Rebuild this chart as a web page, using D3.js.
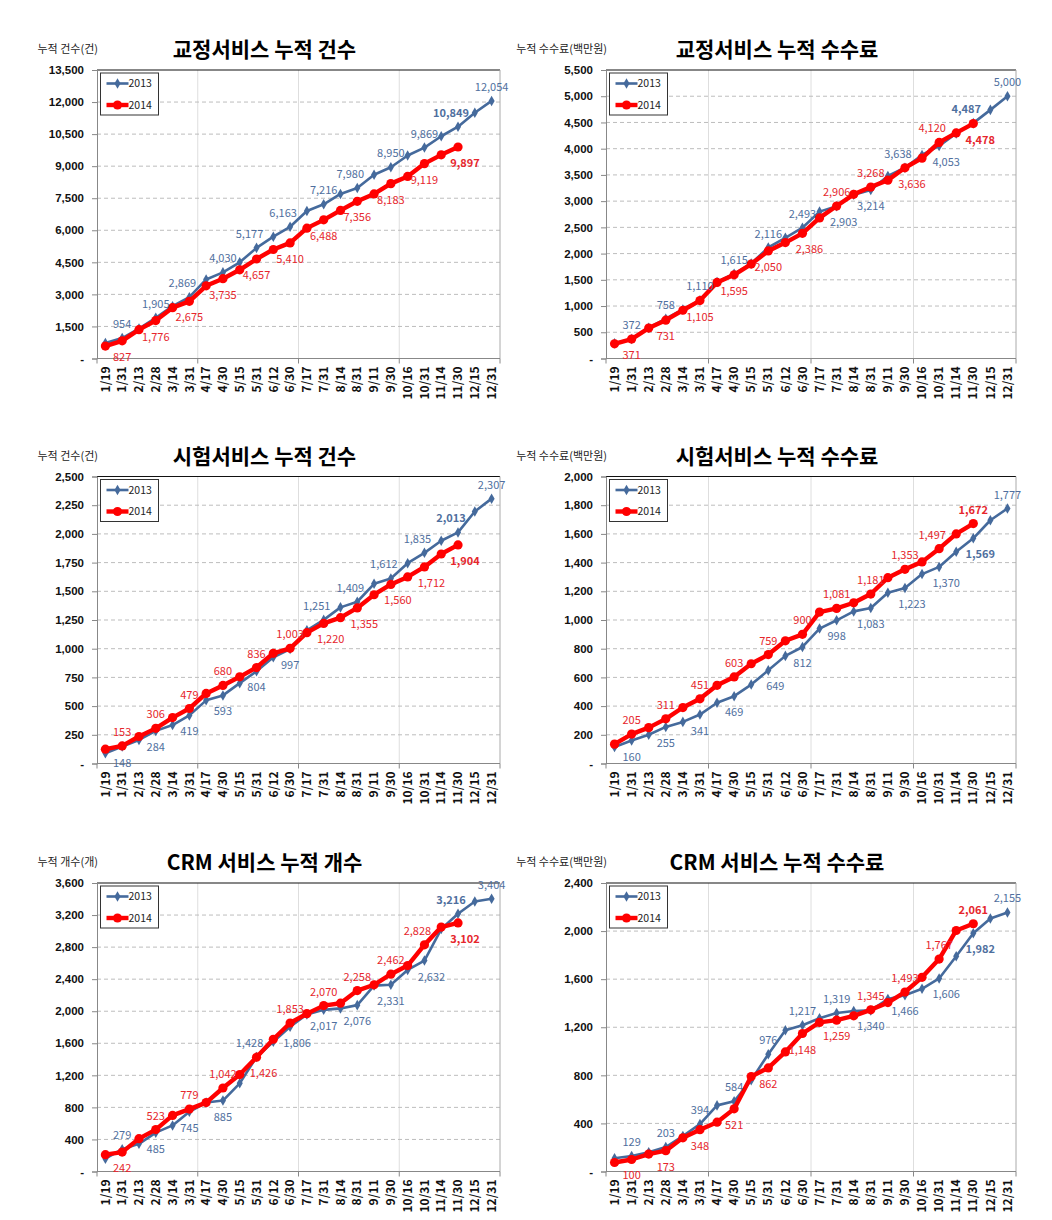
<!DOCTYPE html>
<html>
<head>
<meta charset="utf-8">
<script src="https://cdn.jsdelivr.net/npm/d3@7"></script>
<style>
body { margin: 0; background: #fff; }
svg { font-family: "Noto Sans CJK KR", "Noto Sans", sans-serif; }
</style>
</head>
<body>
<svg id="chart" width="1052" height="1220"></svg>
<script>
var categories = ['1/19', '1/31', '2/13', '2/28', '3/14', '3/31', '4/17', '4/30', '5/15', '5/31', '6/12', '6/30',
  '7/17', '7/31', '8/14', '8/31', '9/11', '9/30', '10/16', '10/31', '11/14', '11/30', '12/15', '12/31'];
var years = ['2013', '2014'];

var titles = ['교정서비스 누적 건수', '교정서비스 누적 수수료', '시험서비스 누적 건수',
  '시험서비스 누적 수수료', 'CRM 서비스 누적 개수', 'CRM 서비스 누적 수수료'];
var unitLabels = ['누적 건수(건)', '누적 수수료(백만원)', '누적 건수(건)',
  '누적 수수료(백만원)', '누적 개수(개)', '누적 수수료(백만원)'];
var yMax = [13500, 5500, 2500, 2000, 3600, 2400];
var yStep = [1500, 500, 250, 200, 400, 400];

var corrCount2013 = [720, 954, 1400, 1905, 2450, 2869, 3700, 4030, 4500, 5177, 5700, 6163, 6900, 7216, 7700, 7980, 8600, 8950, 9500, 9869, 10400, 10849, 11500, 12054];
var corrCount2014 = [580, 827, 1350, 1776, 2380, 2675, 3400, 3735, 4150, 4657, 5100, 5410, 6100, 6488, 6930, 7356, 7700, 8183, 8520, 9119, 9530, 9897];
var corrFee2013 = [290, 372, 585, 758, 935, 1110, 1460, 1615, 1810, 2116, 2300, 2493, 2800, 2903, 3120, 3214, 3480, 3638, 3880, 4053, 4290, 4487, 4740, 5000];
var corrFee2014 = [280, 371, 580, 731, 920, 1105, 1450, 1595, 1800, 2050, 2210, 2386, 2680, 2906, 3130, 3268, 3400, 3636, 3820, 4120, 4300, 4478];
var testCount2013 = [90, 148, 205, 284, 335, 419, 550, 593, 700, 804, 925, 997, 1160, 1251, 1360, 1409, 1565, 1612, 1745, 1835, 1940, 2013, 2195, 2307];
var testCount2014 = [125, 153, 235, 306, 400, 479, 610, 680, 755, 836, 960, 1003, 1140, 1220, 1270, 1355, 1470, 1560, 1625, 1712, 1825, 1904];
var testFee2013 = [115, 160, 200, 255, 290, 341, 423, 469, 550, 649, 750, 812, 940, 998, 1060, 1083, 1190, 1223, 1320, 1370, 1475, 1569, 1695, 1777];
var testFee2014 = [135, 205, 250, 311, 390, 451, 545, 603, 695, 759, 855, 900, 1055, 1081, 1120, 1181, 1295, 1353, 1405, 1497, 1600, 1672];
var crmCount2013 = [160, 279, 345, 485, 575, 745, 860, 885, 1100, 1428, 1620, 1806, 1960, 2017, 2035, 2076, 2320, 2331, 2515, 2632, 3025, 3216, 3370, 3404];
var crmCount2014 = [210, 242, 410, 523, 700, 779, 860, 1042, 1210, 1426, 1650, 1853, 1970, 2070, 2100, 2258, 2330, 2462, 2570, 2828, 3050, 3102];
var crmFee2013 = [110, 129, 160, 203, 295, 394, 550, 584, 760, 976, 1175, 1217, 1275, 1319, 1335, 1340, 1435, 1466, 1520, 1606, 1790, 1982, 2105, 2155];
var crmFee2014 = [75, 100, 145, 173, 280, 348, 410, 521, 790, 862, 995, 1148, 1240, 1259, 1295, 1345, 1405, 1493, 1615, 1767, 2005, 2061];

// label placement for every second point (a = above, b = below, l/r = nudge)
var side2013 = [
  ['a', 'a', 'al', 'a', 'al', 'al', 'a', 'al', 'a', 'a', 'al', 'a'],
  ['a', 'a', 'a', 'a', 'a', 'a', 'br', 'b', 'al', 'br', 'al', 'a'],
  ['b', 'b', 'b', 'b', 'b', 'b', 'al', 'al', 'al', 'al', 'al', 'a'],
  ['b', 'b', 'b', 'b', 'br', 'b', 'b', 'b', 'br', 'br', 'br', 'a'],
  ['a', 'b', 'b', 'b', 'al', 'br', 'b', 'b', 'b', 'br', 'al', 'a'],
  ['a', 'a', 'a', 'a', 'a', 'a', 'a', 'b', 'b', 'br', 'br', 'a']
];
var side2014 = [
  ['b', 'b', 'b', 'b', 'b', 'b', 'b', 'b', 'b', 'b', 'br'],
  ['b', 'b', 'b', 'b', 'b', 'br', 'a', 'a', 'br', 'al', 'br'],
  ['a', 'a', 'a', 'a', 'a', 'a', 'br', 'br', 'br', 'br', 'br'],
  ['a', 'a', 'a', 'a', 'a', 'a', 'a', 'a', 'a', 'al', 'a'],
  ['b', 'a', 'a', 'a', 'br', 'a', 'a', 'a', 'a', 'al', 'br'],
  ['b', 'b', 'b', 'b', 'b', 'b', 'b', 'a', 'a', 'a', 'a']
];

var series2013 = [corrCount2013, corrFee2013, testCount2013, testFee2013, crmCount2013, crmFee2013];
var series2014 = [corrCount2014, corrFee2014, testCount2014, testFee2014, crmCount2014, crmFee2014];

var cols = [{left: 97, right: 500}, {left: 606, right: 1016}];
var rows = [{top: 70, bottom: 358.5}, {top: 476.5, bottom: 763.5}, {top: 883, bottom: 1171.5}];

var blue = '#456a9c', blueText = '#4f6f9e';
var red = '#ff0000', redText = '#e6262c';

var svg = d3.select('#chart');
var fmt = d3.format(',');

function drawPanel(k) {
  var box = {
    left: cols[k % 2].left, right: cols[k % 2].right,
    top: rows[Math.floor(k / 2)].top, bottom: rows[Math.floor(k / 2)].bottom
  };
  var g = svg.append('g');

  var x = d3.scaleBand().domain(categories).range([box.left, box.right]).padding(0);
  var y = d3.scaleLinear().domain([0, yMax[k]]).range([box.bottom, box.top]);
  var cx = function(d, i) { return x(categories[i]) + x.bandwidth() / 2; };
  var ticks = d3.range(0, yMax[k] + 1, yStep[k]);

  // vertical gridlines every 6 categories
  var majors = [6, 12, 18];
  g.selectAll('.vgrid').data(majors).enter().append('line')
    .attr('x1', function(d) { return x(categories[d]); })
    .attr('x2', function(d) { return x(categories[d]); })
    .attr('y1', box.top).attr('y2', box.bottom)
    .attr('stroke', '#dedede').attr('stroke-width', 1);

  // horizontal dashed gridlines
  g.selectAll('.hgrid').data(ticks.slice(1, -1)).enter().append('line')
    .attr('x1', box.left).attr('x2', box.right)
    .attr('y1', function(d) { return y(d); }).attr('y2', function(d) { return y(d); })
    .attr('stroke', '#bdbdbd').attr('stroke-dasharray', '4,3');

  // frame
  g.append('line').attr('x1', box.left).attr('x2', box.right).attr('y1', box.top).attr('y2', box.top)
    .attr('stroke', '#111').attr('stroke-width', 1.2);
  g.append('line').attr('x1', box.right).attr('x2', box.right).attr('y1', box.top).attr('y2', box.bottom)
    .attr('stroke', '#aaa');

  // y axis
  var yAxis = d3.axisLeft(y).tickValues(ticks).tickSize(5).tickPadding(8)
    .tickFormat(function(d) { return d === 0 ? '-' : fmt(d); });
  var ya = g.append('g').attr('transform', 'translate(' + box.left + ',0)').call(yAxis);
  ya.select('.domain').attr('stroke', '#888');
  ya.selectAll('.tick line').attr('stroke', '#888');
  ya.selectAll('text').attr('font-size', 11.5).attr('font-weight', 700).attr('fill', '#111');

  // x axis
  var xa = g.append('g').attr('transform', 'translate(0,' + box.bottom + ')');
  xa.append('line').attr('x1', box.left).attr('x2', box.right).attr('stroke', '#888');
  xa.selectAll('.xtick').data([0, 6, 12, 18, 24]).enter().append('line')
    .attr('x1', function(d) { return d < 24 ? x(categories[d]) : box.right; })
    .attr('x2', function(d) { return d < 24 ? x(categories[d]) : box.right; })
    .attr('y1', 0).attr('y2', 5).attr('stroke', '#888');
  xa.selectAll('text').data(categories).enter().append('text')
    .attr('transform', function(d) {
      return 'translate(' + (x(d) + x.bandwidth() / 2) + ',8) rotate(-90)';
    })
    .attr('text-anchor', 'end').attr('dy', '0.35em')
    .attr('font-size', 12).attr('font-weight', 700).attr('fill', '#111')
    .text(function(d) { return d; });

  // titles
  g.append('text').attr('x', (box.left + box.right) / 2 - 34).attr('y', box.top - 13)
    .attr('text-anchor', 'middle').attr('font-size', 21).attr('font-weight', 700).attr('fill', '#000')
    .text(titles[k]);
  g.append('text').attr('x', box.left + 1).attr('y', box.top - 17)
    .attr('text-anchor', 'end').attr('font-size', 11).attr('fill', '#222')
    .text(unitLabels[k]);

  var line = d3.line().x(cx).y(function(d) { return y(d); });

  // 2013
  g.append('path').datum(series2013[k]).attr('d', line)
    .attr('fill', 'none').attr('stroke', blue).attr('stroke-width', 2.6).attr('stroke-linejoin', 'round');
  g.selectAll('.m13').data(series2013[k]).enter().append('path')
    .attr('d', d3.symbol(d3.symbolDiamond, 32))
    .attr('transform', function(d, i) { return 'translate(' + cx(d, i) + ',' + y(d) + ')'; })
    .attr('fill', blue);

  // 2014
  g.append('path').datum(series2014[k]).attr('d', line)
    .attr('fill', 'none').attr('stroke', red).attr('stroke-width', 4.4).attr('stroke-linejoin', 'round');
  g.selectAll('.m14').data(series2014[k]).enter().append('circle')
    .attr('cx', cx).attr('cy', function(d) { return y(d); }).attr('r', 4.6)
    .attr('fill', red);

  // data labels (every second point)
  function labels(values, sides, color) {
    var pts = values.map(function(v, i) { return {v: v, i: i}; })
      .filter(function(p) { return p.i % 2 === 1; });
    g.selectAll(null).data(pts).enter().append('text')
      .attr('x', function(p, j) {
        var s = sides[j], nudge = s.indexOf('l') > 0 ? -7 : (s.indexOf('r') > 0 ? 7 : 0);
        return cx(p.v, p.i) + nudge;
      })
      .attr('y', function(p, j) { return y(p.v) + (sides[j][0] === 'a' ? -10 : 20); })
      .attr('text-anchor', 'middle').attr('font-size', 11)
      .attr('font-weight', function(p) { return p.i === 21 ? 700 : 400; })
      .attr('fill', color)
      .text(function(p) { return fmt(p.v); });
  }
  labels(series2013[k], side2013[k], blueText);
  labels(series2014[k], side2014[k], redText);

  // legend
  var lg = g.append('g').attr('transform', 'translate(' + (box.left + 3.5) + ',' + (box.top + 3) + ')');
  lg.append('rect').attr('width', 58).attr('height', 42).attr('fill', '#fff')
    .attr('stroke', '#333').attr('stroke-width', 1);
  years.forEach(function(yr, j) {
    var ly = j === 0 ? 10.5 : 32;
    var it = lg.append('g').attr('transform', 'translate(0,' + ly + ')');
    it.append('line').attr('x1', 6).attr('x2', 28).attr('stroke', j === 0 ? blue : red)
      .attr('stroke-width', j === 0 ? 2.6 : 4.4);
    if (j === 0) {
      it.append('path').attr('d', d3.symbol(d3.symbolDiamond, 32)).attr('transform', 'translate(17,0)').attr('fill', blue);
    } else {
      it.append('circle').attr('cx', 17).attr('r', 4.6).attr('fill', red);
    }
    it.append('text').attr('x', 28).attr('dy', '0.35em').attr('font-size', 10.5).attr('fill', '#222').text(yr);
  });
}

d3.range(6).forEach(drawPanel);
</script>
</body>
</html>
